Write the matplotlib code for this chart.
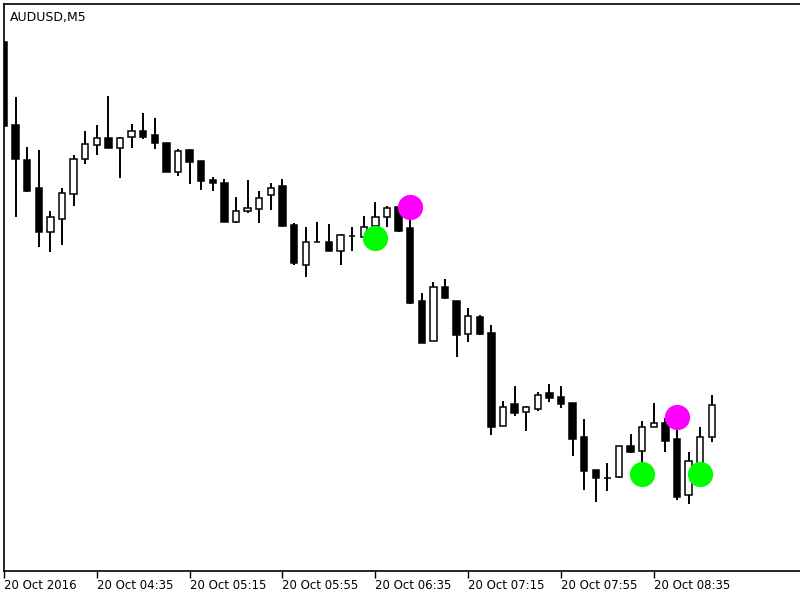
import numpy as np
import matplotlib
matplotlib.use("Agg")
import matplotlib.pyplot as plt

# -------------------------------
# AUDUSD M5 candles
# -------------------------------
opens = [0.76798, 0.76715, 0.76680, 0.76652, 0.76608, 0.76621, 0.76646, 0.76681,
         0.76695, 0.76702, 0.76692, 0.76703, 0.76709, 0.76705, 0.76697, 0.76668,
         0.76690, 0.76679, 0.76660, 0.76657, 0.76618, 0.76629, 0.76631, 0.76645,
         0.76654, 0.76615, 0.76575, 0.76598, 0.76598, 0.76589, 0.76604, 0.76603,
         0.76614, 0.76623, 0.76633, 0.76612, 0.76539, 0.76499, 0.76553, 0.76539,
         0.76506, 0.76523, 0.76507, 0.76414, 0.76436, 0.76428, 0.76431, 0.76447,
         0.76443, 0.76437, 0.76403, 0.76370, 0.76362, 0.76363, 0.76394, 0.76389,
         0.76413, 0.76417, 0.76401, 0.76345, 0.76375, 0.76403]
highs = [0.76798, 0.76743, 0.76693, 0.76690, 0.76629, 0.76652, 0.76685, 0.76709,
         0.76715, 0.76744, 0.76703, 0.76716, 0.76727, 0.76722, 0.76697, 0.76691,
         0.76691, 0.76679, 0.76663, 0.76661, 0.76643, 0.76660, 0.76649, 0.76657,
         0.76661, 0.76617, 0.76613, 0.76618, 0.76616, 0.76606, 0.76613, 0.76624,
         0.76638, 0.76634, 0.76634, 0.76633, 0.76547, 0.76558, 0.76561, 0.76539,
         0.76532, 0.76525, 0.76515, 0.76439, 0.76454, 0.76434, 0.76448, 0.76456,
         0.76454, 0.76437, 0.76421, 0.76370, 0.76377, 0.76394, 0.76406, 0.76419,
         0.76437, 0.76422, 0.76423, 0.76388, 0.76413, 0.76445]
lows = [0.76714, 0.76623, 0.76648, 0.76593, 0.76588, 0.76595, 0.76634, 0.76676,
        0.76685, 0.76692, 0.76662, 0.76692, 0.76701, 0.76691, 0.76668, 0.76664,
        0.76656, 0.76650, 0.76649, 0.76618, 0.76617, 0.76627, 0.76617, 0.76630,
        0.76613, 0.76575, 0.76563, 0.76598, 0.76589, 0.76575, 0.76589, 0.76602,
        0.76602, 0.76613, 0.76608, 0.76536, 0.76497, 0.76499, 0.76541, 0.76483,
        0.76498, 0.76505, 0.76405, 0.76414, 0.76424, 0.76409, 0.76429, 0.76438,
        0.76432, 0.76384, 0.76350, 0.76338, 0.76349, 0.76362, 0.76387, 0.76366,
        0.76413, 0.76388, 0.76340, 0.76336, 0.76366, 0.76398]
closes = [0.76714, 0.76681, 0.76649, 0.76608, 0.76623, 0.76647, 0.76681, 0.76696,
          0.76702, 0.76692, 0.76702, 0.76709, 0.76703, 0.76697, 0.76668, 0.76689,
          0.76678, 0.76659, 0.76657, 0.76618, 0.76629, 0.76632, 0.76642, 0.76652,
          0.76614, 0.76577, 0.76598, 0.76598, 0.76589, 0.76605, 0.76604, 0.76613,
          0.76623, 0.76632, 0.76609, 0.76537, 0.76497, 0.76553, 0.76542, 0.76505,
          0.76524, 0.76506, 0.76413, 0.76433, 0.76427, 0.76433, 0.76445, 0.76442,
          0.76436, 0.76401, 0.76369, 0.76362, 0.76362, 0.76394, 0.76388, 0.76413,
          0.76417, 0.76399, 0.76343, 0.76379, 0.76403, 0.76435]

# signal dots: green at lows, magenta at highs
buy_bars = [32, 55, 60]
sell_bars = [35, 58]

tick_bars = [0, 8, 16, 24, 32, 40, 48, 56]
tick_labels = ["20 Oct 2016", "20 Oct 04:35", "20 Oct 05:15", "20 Oct 05:55",
               "20 Oct 06:35", "20 Oct 07:15", "20 Oct 07:55", "20 Oct 08:35"]

o = np.array(opens)
h = np.array(highs)
l = np.array(lows)
c = np.array(closes)
x = np.arange(len(o))

fig = plt.figure(figsize=(8, 6), dpi=100)
ax = fig.add_axes([4 / 800, 29 / 600, 796 / 800, 567 / 600])

# wicks
ax.vlines(x, l, h, color="black", linewidth=1.4, zorder=1)

# bodies
up = c >= o
body_bottom = np.minimum(o, c)
body_height = np.abs(c - o)
ax.bar(x[up], body_height[up], bottom=body_bottom[up], width=0.55,
       facecolor="white", edgecolor="black", linewidth=1.1, zorder=2)
ax.bar(x[~up], body_height[~up], bottom=body_bottom[~up], width=0.55,
       facecolor="black", edgecolor="black", linewidth=1.1, zorder=2)

# signals
ax.scatter(buy_bars, l[buy_bars], s=330, color="#00ff00", zorder=3, linewidths=0)
ax.scatter(sell_bars, h[sell_bars], s=330, color="#ff00ff", zorder=3, linewidths=0)

ax.set_xlim(0.0, 68.6)
ax.set_ylim(0.76269, 0.76836)

ax.set_xticks(tick_bars)
ax.set_xticklabels(tick_labels, ha="left", fontsize=8.5)
ax.tick_params(axis="x", direction="out", length=5, width=1, pad=1)
ax.set_yticks([])

ax.spines["right"].set_visible(False)
for s in ["left", "top", "bottom"]:
    ax.spines[s].set_linewidth(1.2)

ax.text(0.008, 0.988, "AUDUSD,M5", transform=ax.transAxes, fontsize=9,
        ha="left", va="top")

fig.savefig("out.png", dpi=100)
